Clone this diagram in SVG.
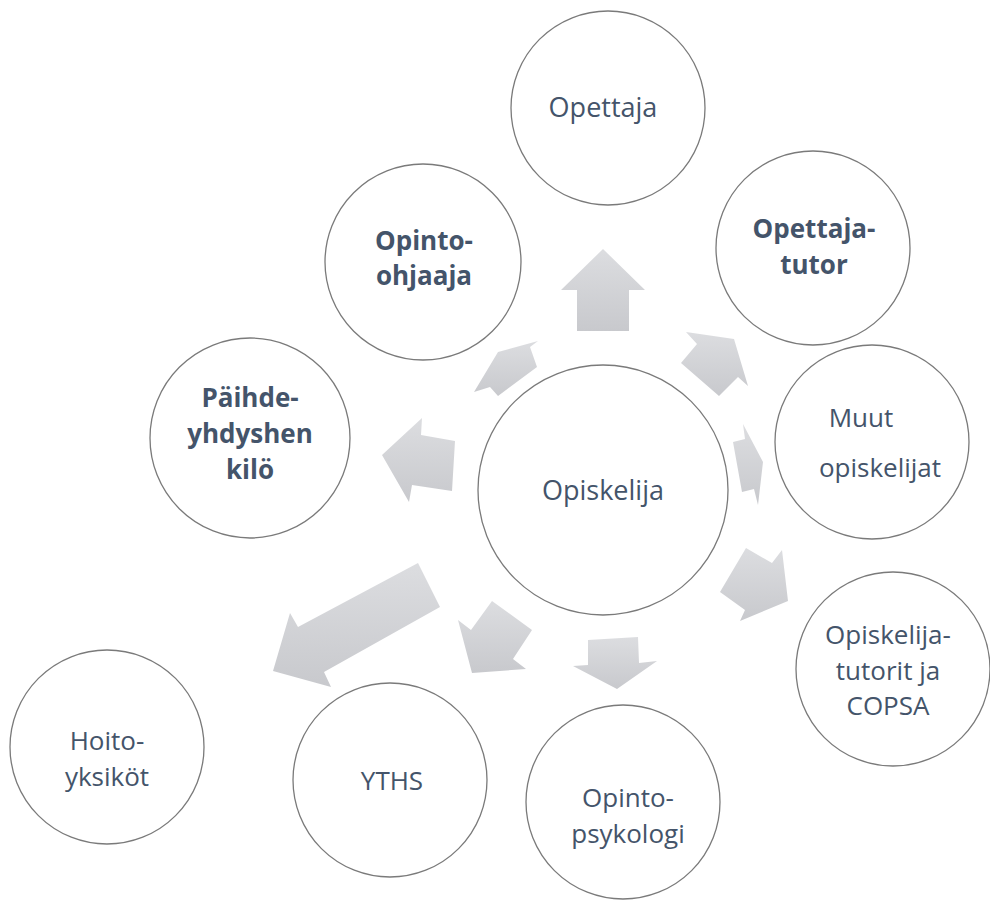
<svg xmlns="http://www.w3.org/2000/svg" width="990" height="914" viewBox="0 0 990 914">
<defs>
<linearGradient id="ag" x1="0" y1="0" x2="0" y2="1">
<stop offset="0" stop-color="#dcdde0"/>
<stop offset="1" stop-color="#c8c9cd"/>
</linearGradient>
<style>
.n{fill:#ffffff;stroke:#7a7a7a;stroke-width:1.3}
.t{font-family:"Open Sans","Noto Sans",sans-serif;font-size:26px;fill:#44546a;text-anchor:middle}
.b{font-weight:bold}
.a{fill:url(#ag);stroke:none}
</style>
</defs>
<rect width="990" height="914" fill="#ffffff"/>
<g id="connectors">
<polygon class="a" points="603,249 645,290 629,290 629,331 577,331 577,290 561,290"/>
<polygon class="a" points="686,332 734,339 748,386 738,377 719,396 681,363 697,344"/>
<polygon class="a" points="743,424 763,462 758,505 754,489 742,492 733,442 745,439"/>
<polygon class="a" points="746,548 772,563 782,550 788,601 740,621 745,610 720,592"/>
<polygon class="a" points="588,640 638,637 639,663 657,661 617,689 573,666 588,665"/>
<polygon class="a" points="492,601 532,630 513,659 526,669 472,673 458,620 471,630"/>
<polygon class="a" points="418,563 440,607 324,672 331,687 273,671 290,613 298,627"/>
<polygon class="a" points="422,418 421,435 455,441 452,491 412,485 409,502 382,455"/>
<polygon class="a" points="498,352 538,341 530,347 537,367 498,396 490,387 474,392"/>
</g>
<g id="opiskelija"><circle class="n" cx="603" cy="490" r="125"/><text class="t" x="603" y="500" style="font-size:27px">Opiskelija</text></g>
<g id="opettaja"><circle class="n" cx="608" cy="108" r="97"/><text class="t" x="603" y="117" style="font-size:27px">Opettaja</text></g>
<g id="opettaja-tutor"><circle class="n" cx="813" cy="248" r="97"/><text class="t b" x="814" y="238">Opettaja-</text><text class="t b" x="814" y="274">tutor</text></g>
<g id="muut"><circle class="n" cx="872" cy="442" r="97"/><text class="t" x="861" y="427">Muut</text><text class="t" x="880" y="477">opiskelijat</text></g>
<g id="copsa"><circle class="n" cx="893" cy="669" r="97"/><text class="t" x="888" y="644">Opiskelija-</text><text class="t" x="888" y="680">tutorit ja</text><text class="t" x="888" y="715">COPSA</text></g>
<g id="psykologi"><circle class="n" cx="623" cy="802" r="97"/><text class="t" x="628" y="807">Opinto-</text><text class="t" x="628" y="843">psykologi</text></g>
<g id="yths"><circle class="n" cx="390" cy="780" r="97"/><text class="t" x="392" y="790">YTHS</text></g>
<g id="hoito"><circle class="n" cx="107" cy="747" r="97"/><text class="t" x="107" y="750">Hoito-</text><text class="t" x="107" y="786">yksiköt</text></g>
<g id="paihde"><circle class="n" cx="250" cy="438" r="100"/><text class="t b" x="250" y="407">Päihde-</text><text class="t b" x="250" y="443">yhdyshen</text><text class="t b" x="250" y="479">kilö</text></g>
<g id="opinto-ohjaaja"><circle class="n" cx="423" cy="262" r="98"/><text class="t b" x="424" y="250">Opinto-</text><text class="t b" x="424" y="285">ohjaaja</text></g>
</svg>
